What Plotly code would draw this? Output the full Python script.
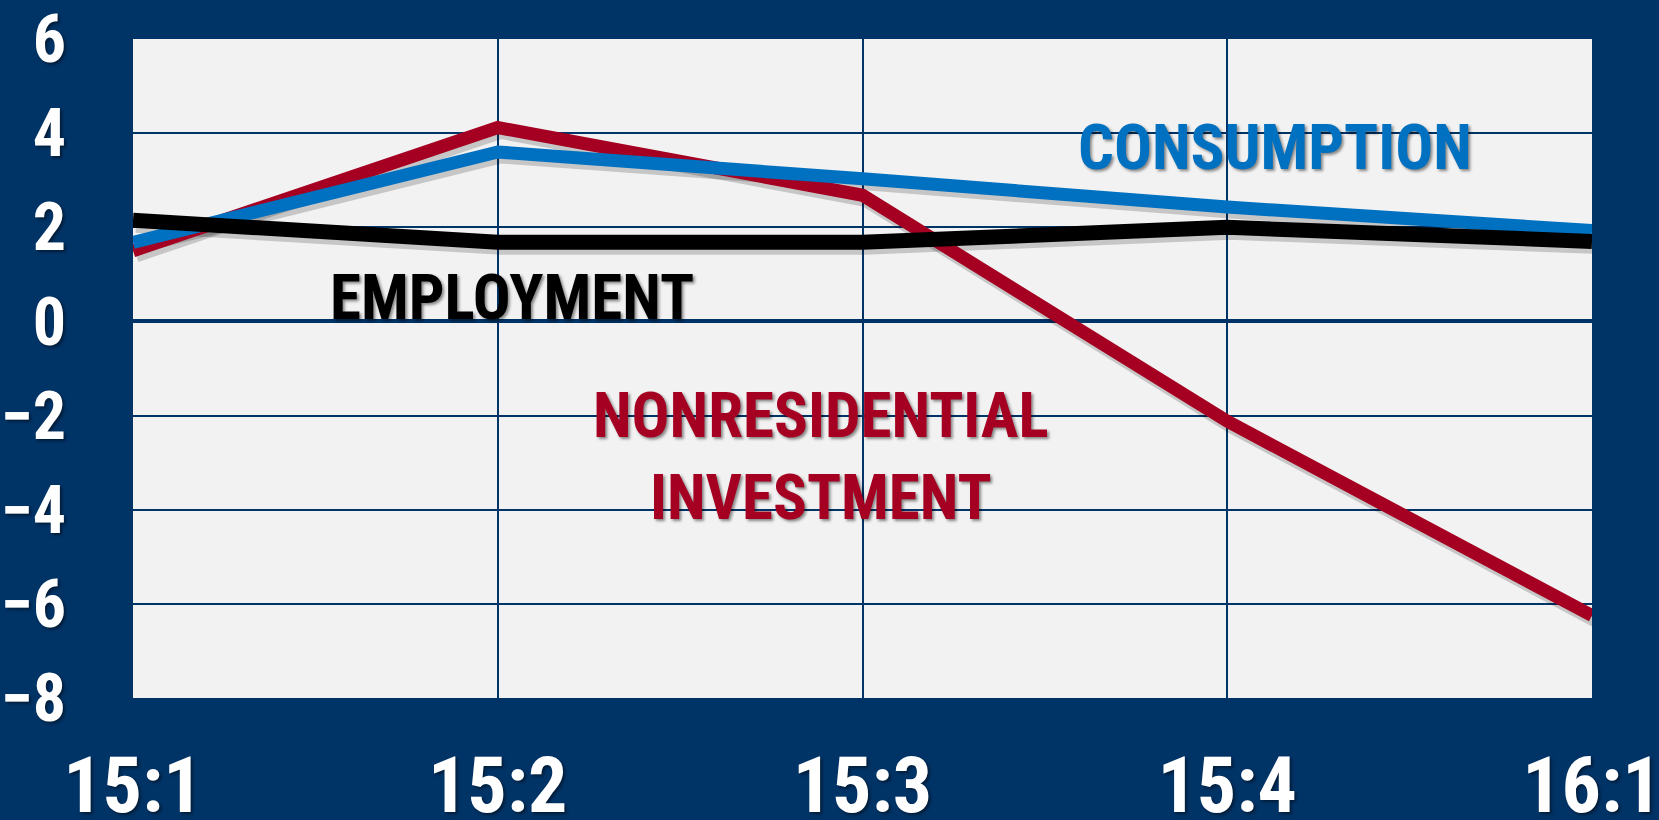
import plotly.graph_objects as go

quarters = ["15:1", "15:2", "15:3", "15:4", "16:1"]
employment = [2.15, 1.68, 1.68, 2.0, 1.7]
consumption = [1.68, 3.6, 3.03, 2.43, 1.93]
nonres_investment = [1.5, 4.12, 2.68, -2.12, -6.25]
y_ticks = [6, 4, 2, 0, -2, -4, -6, -8]

NAVY = "#003366"
RED = "#A50021"
BLUE = "#0070C0"
FONT = "Liberation Sans Narrow, Roboto Condensed, DejaVu Sans Condensed, Arial Narrow, sans-serif"
TXT_SHADOW = "2px 2px 3px rgba(0,0,0,0.45)"

W, H = 1659, 820
L, R, T, B = 133, 67, 39, 122
plot_w, plot_h = W - L - R, H - T - B
ymin, ymax = -8, 6
# drop shadow offset for the lines (pixels)
dx, dy = 3, 4
sx = dx * 4 / plot_w
sy = dy * (ymax - ymin) / plot_h

series = [
    ("Nonresidential investment", nonres_investment, RED, 13),
    ("Consumption", consumption, BLUE, 13),
    ("Employment", employment, "black", 15),
]

fig = go.Figure()
# invisible trace so the base axes (grid, ticks) get drawn
fig.add_trace(go.Scatter(x=quarters, y=employment, mode="lines", line=dict(width=0),
                         hoverinfo="skip", showlegend=False))
for name, vals, color, w in series:
    fig.add_trace(go.Scatter(x=quarters, y=vals, mode="lines", name=name + " shadow",
                             line=dict(color="rgba(0,0,0,0.18)", width=w + 2),
                             xaxis="x2", yaxis="y2", hoverinfo="skip", showlegend=False))
for name, vals, color, w in series:
    fig.add_trace(go.Scatter(x=quarters, y=vals, mode="lines", name=name,
                             line=dict(color=color, width=w),
                             xaxis="x3", yaxis="y3", showlegend=False))

fig.update_layout(
    width=W, height=H,
    margin=dict(l=L, r=R, t=T, b=B, autoexpand=False),
    paper_bgcolor=NAVY,
    plot_bgcolor="#F2F2F2",
    showlegend=False,
    xaxis=dict(type="category", categoryorder="array", categoryarray=quarters,
               range=[0, 4], showgrid=True, gridcolor=NAVY, gridwidth=1.5,
               zeroline=False, showline=False, ticks="", automargin=False,
               tickfont=dict(family=FONT, size=78, color="white", weight="bold", shadow=TXT_SHADOW),
               ticklabelstandoff=35),
    yaxis=dict(range=[ymin, ymax], tickvals=y_ticks, showgrid=True, gridcolor=NAVY, gridwidth=1.5,
               zeroline=True, zerolinecolor=NAVY, zerolinewidth=3.5, showline=False, ticks="",
               automargin=False,
               tickfont=dict(family=FONT, size=66, color="white", weight="bold", shadow=TXT_SHADOW),
               ticklabelstandoff=66),
    xaxis2=dict(type="category", categoryorder="array", categoryarray=quarters,
                range=[-sx, 4 - sx], overlaying="x", visible=False),
    yaxis2=dict(range=[ymin + sy, ymax + sy], overlaying="y", visible=False),
    xaxis3=dict(type="category", categoryorder="array", categoryarray=quarters,
                range=[0, 4], overlaying="x", visible=False),
    yaxis3=dict(range=[ymin, ymax], overlaying="y", visible=False),
)

labels = [
    ("CONSUMPTION", BLUE, 0.783, 0.835),
    ("EMPLOYMENT", "black", 0.26, 0.608),
    ("NONRESIDENTIAL<br>INVESTMENT", RED, 0.4716, 0.367),
]
for text, color, x, y in labels:
    fig.add_annotation(text=text, xref="paper", yref="paper", x=x, y=y,
                       xanchor="center", yanchor="middle", showarrow=False,
                       font=dict(family=FONT, size=63, color=color, weight="bold", shadow=TXT_SHADOW))

fig.write_html("out.html", config={"displayModeBar": False},
               post_script="document.body.style.margin='0px';")
